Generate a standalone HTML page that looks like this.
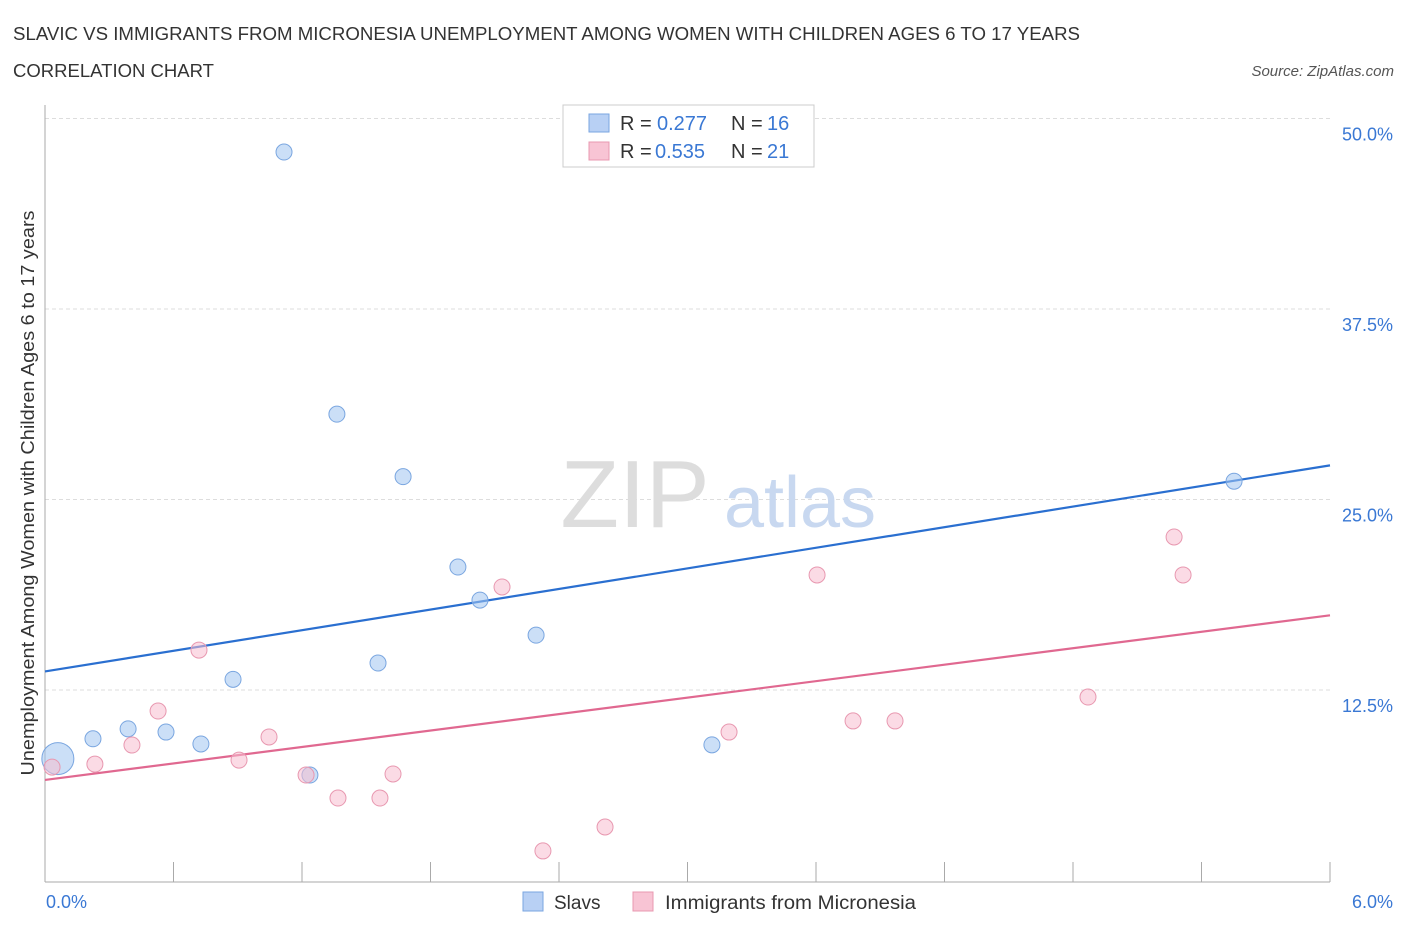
<!DOCTYPE html>
<html><head><meta charset="utf-8"><style>
body{margin:0;background:#fff;font-family:"Liberation Sans",sans-serif;}
svg text{font-family:"Liberation Sans",sans-serif;}
</style></head><body>
<svg width="1406" height="930" xmlns="http://www.w3.org/2000/svg">
<text x="13" y="40" font-size="18" fill="#333" textLength="1067" lengthAdjust="spacingAndGlyphs">SLAVIC VS IMMIGRANTS FROM MICRONESIA UNEMPLOYMENT AMONG WOMEN WITH CHILDREN AGES 6 TO 17 YEARS</text>
<text x="13" y="77" font-size="18" fill="#333" textLength="201" lengthAdjust="spacingAndGlyphs">CORRELATION CHART</text>
<text x="1394" y="76" font-size="15" fill="#555" font-style="italic" text-anchor="end">Source: ZipAtlas.com</text>
<g id="grid"></g>
<text x="635" y="527" font-size="96" fill="#ddd" font-family="Liberation Serif" text-anchor="middle">ZIP</text>
<text x="800" y="527" font-size="72" fill="#c8d8f0" text-anchor="middle">atlas</text>
<g id="marks"></g>
<text transform="translate(34,493) rotate(-90)" font-size="18" fill="#333" text-anchor="middle" textLength="565" lengthAdjust="spacingAndGlyphs">Unemployment Among Women with Children Ages 6 to 17 years</text>
<text x="46" y="908" font-size="18" fill="#3a78d4">0.0%</text>
<text x="1393" y="908" font-size="18" fill="#3a78d4" text-anchor="end">6.0%</text>
<g>
<rect x="563" y="105" width="251" height="62" fill="#fff" stroke="#ccc"/>
<rect x="589" y="114" width="20" height="18" fill="#b8d0f4" stroke="#7aa6e0"/>
<rect x="589" y="142" width="20" height="18" fill="#f8c4d4" stroke="#e898b0"/>
<text x="620" y="130" font-size="20" fill="#333">R = </text><text x="657" y="130" font-size="20" fill="#3a78d4">0.277</text>
<text x="731" y="130" font-size="20" fill="#333">N = </text><text x="767" y="130" font-size="20" fill="#3a78d4">16</text>
<text x="620" y="158" font-size="20" fill="#333">R = </text><text x="655" y="158" font-size="20" fill="#3a78d4">0.535</text>
<text x="731" y="158" font-size="20" fill="#333">N = </text><text x="767" y="158" font-size="20" fill="#3a78d4">21</text>
</g>
<g>
<rect x="523" y="892" width="20" height="19" fill="#b8d0f4" stroke="#7aa6e0"/>
<text x="554" y="909" font-size="19" fill="#333">Slavs</text>
<rect x="633" y="892" width="20" height="19" fill="#f8c4d4" stroke="#e898b0"/>
<text x="665" y="909" font-size="19" fill="#333" textLength="251" lengthAdjust="spacingAndGlyphs">Immigrants from Micronesia</text>
</g>
</svg>
<script>
const yTicks=[12.5,25,37.5,50];
const yTickLabels=["12.5%","25.0%","37.5%","50.0%"];
const slavX=[0.06,0.224,0.388,0.565,0.728,0.878,1.116,1.237,1.363,1.555,1.672,1.928,2.031,2.293,3.114,5.552];
const slavY=[8.0,9.3,9.95,9.74,8.96,13.2,47.8,6.92,30.6,14.27,26.5,20.57,18.4,16.1,8.9,26.2];
const micX=[0.033,0.233,0.406,0.528,0.719,0.906,1.046,1.219,1.368,1.564,1.625,2.134,2.325,2.615,3.194,3.605,3.773,3.969,4.87,5.272,5.314];
const micY=[7.44,7.64,8.89,11.12,15.12,7.9,9.42,6.92,5.41,5.41,6.99,19.26,1.94,3.51,9.74,20.05,10.47,10.47,12.04,22.54,20.05];
const slavTrend=[13.72,27.24];
const micTrend=[6.6,17.4];
const xDomain=[0,6];
const NS="http://www.w3.org/2000/svg";
const X=v=>45+(v-xDomain[0])/(xDomain[1]-xDomain[0])*1285;
const Y=v=>880.5-v/12.5*190.5;
const grid=document.getElementById('grid'),marks=document.getElementById('marks');
function mk(t,a,p){const e=document.createElementNS(NS,t);for(const k in a)e.setAttribute(k,a[k]);p.appendChild(e);return e;}
yTicks.forEach((t,i)=>{
 const l=mk('line',{x1:45,x2:1330,y1:Y(t),y2:Y(t),stroke:'#ddd','stroke-dasharray':'4,3'},grid);
 
 
 const tx=mk('text',{x:1393,y:Y(t)+22,'font-size':18,fill:'#3a78d4','text-anchor':'end'},grid);
 tx.textContent=yTickLabels[i];
 
 
});
const ax=mk('line',{x1:45,x2:1330,y1:882,y2:882,stroke:'#aaa'},grid);


const ay=mk('line',{x1:45,x2:45,y1:105,y2:882,stroke:'#aaa'},grid);


for(let i=0;i<=10;i++){
 const v=xDomain[0]+i*(xDomain[1]-xDomain[0])/10;
 const t=mk('line',{x1:X(v),x2:X(v),y1:882,y2:i==0?882:862,stroke:'#aaa'},grid);
 
 
}
const sl=mk('line',{x1:X(xDomain[0]),x2:X(xDomain[1]),y1:Y(slavTrend[0]),y2:Y(slavTrend[1]),stroke:'#2a6fd0','stroke-width':2.2},marks);


const ml=mk('line',{x1:X(xDomain[0]),x2:X(xDomain[1]),y1:Y(micTrend[0]),y2:Y(micTrend[1]),stroke:'#e06890','stroke-width':2.2},marks);


slavX.forEach((x,i)=>{
 const c=mk('circle',{cx:X(x),cy:Y(slavY[i]),r:i==0?16:8,fill:'rgba(160,196,240,0.55)',stroke:'#7aa6e0','stroke-width':1},marks);
 
 
});
micX.forEach((x,i)=>{
 const c=mk('circle',{cx:X(x),cy:Y(micY[i]),r:8,fill:'rgba(248,190,208,0.55)',stroke:'#e898b0','stroke-width':1},marks);
 
 
});
</script>
</body></html>
